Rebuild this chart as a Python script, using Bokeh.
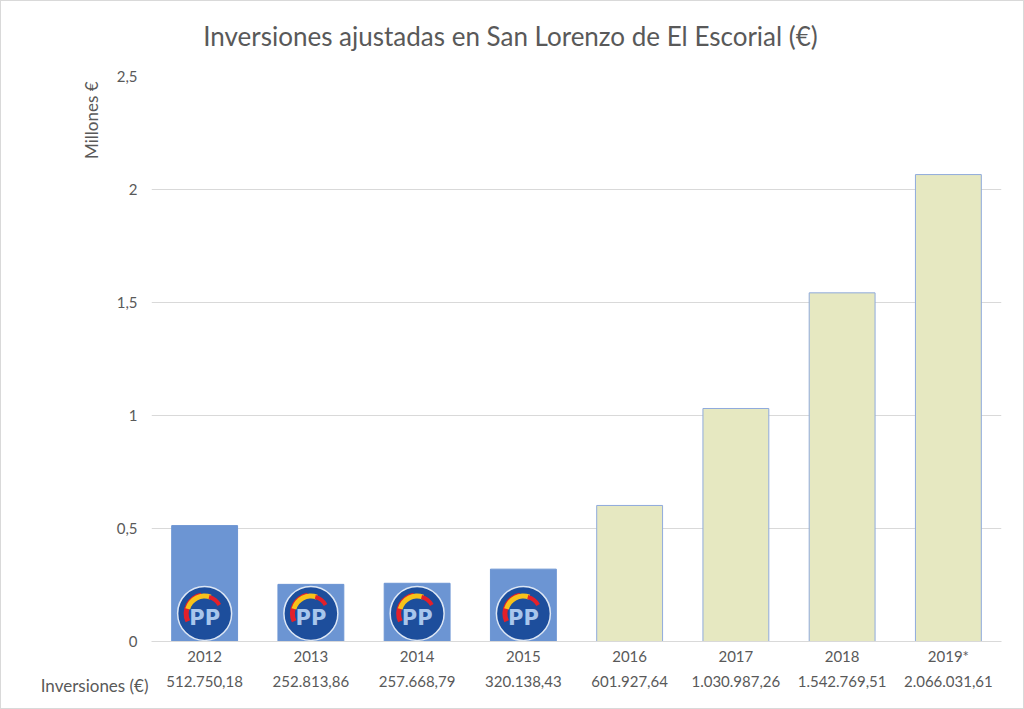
import math
from bokeh.plotting import figure
from bokeh.models import (FactorRange, CategoricalAxis, Label, Title, CustomJSTickFormatter,
                          FixedTicker, ColumnDataSource, Range1d)
from bokeh.core.properties import value
from bokeh.embed import file_html
from bokeh.resources import INLINE

# ---- data ----
years = ["2012", "2013", "2014", "2015", "2016", "2017", "2018", "2019*"]
inversiones = [512750.18, 252813.86, 257668.79, 320138.43,
               601927.64, 1030987.26, 1542769.51, 2066031.61]
inversiones_txt = ["512.750,18", "252.813,86", "257.668,79", "320.138,43",
                   "601.927,64", "1.030.987,26", "1.542.769,51", "2.066.031,61"]
gobierno = ["PP", "PP", "PP", "PP", "Otro", "Otro", "Otro", "Otro"]
y_ticks = [0, 0.5, 1, 1.5, 2, 2.5]

FONT = "Lato"
TXT = "#595959"
GRID = "#D9D9D9"
fill_map = {"PP": "#6C95D3", "Otro": "#E6E8C1"}
line_map = {"PP": "#6C95D3", "Otro": "#8FAADC"}

millones = [v / 1e6 for v in inversiones]
src = ColumnDataSource(dict(
    year=years, m=millones,
    fill=[fill_map[g] for g in gobierno],
    line=[line_map[g] for g in gobierno],
))

p = figure(x_range=FactorRange(*years, range_padding=0), y_range=Range1d(0, 2.5),
           width=1024, height=709, output_backend="svg", toolbar_location=None,
           min_border_left=150, min_border_right=24,
           min_border_top=75, min_border_bottom=68)
p.outline_line_color = None
p.styles = {"border": "1px solid #D9D9D9"}

# chart title, in the upper side panel (coordinates relative to that panel)
p.add_layout(Label(x=359, y=41, x_units="screen", y_units="screen",
                   text="Inversiones ajustadas en San Lorenzo de El Escorial (€)",
                   text_align="center", text_baseline="middle", text_font=FONT,
                   text_font_size="26px", text_color=TXT), "above")

p.add_layout(Title(text="Millones €", align="right", offset=5, standoff=24,
                   vertical_align="bottom", text_font=FONT, text_font_size="17px",
                   text_color=TXT, text_font_style="normal"), "left")

p.vbar(x="year", top="m", width=0.62, fill_color="fill", line_color="line",
       line_width=1, source=src)

# PP logos on the PP bars
pp_years = [y for y, g in zip(years, gobierno) if g == "PP"]
logo_y = 0.124
lsrc = ColumnDataSource(dict(x=pp_years, y=[logo_y] * len(pp_years)))
p.scatter(x="x", y="y", source=lsrc, size=54, marker="circle",
          fill_color="#1D4E9C", line_color="#DCE6F4", line_width=1.5)
p.annular_wedge(x="x", y="y", source=lsrc, inner_radius=16, outer_radius=21,
                inner_radius_units="screen", outer_radius_units="screen",
                start_angle=100, end_angle=205, start_angle_units="deg",
                end_angle_units="deg", fill_color="#E3202A", line_color=None)
p.annular_wedge(x="x", y="y", source=lsrc, inner_radius=15, outer_radius=20,
                inner_radius_units="screen", outer_radius_units="screen",
                start_angle=70, end_angle=165, start_angle_units="deg",
                end_angle_units="deg", fill_color="#F7C21A", line_color=None)
p.annular_wedge(x="x", y="y", source=lsrc, inner_radius=15, outer_radius=19,
                inner_radius_units="screen", outer_radius_units="screen",
                start_angle=30, end_angle=75, start_angle_units="deg",
                end_angle_units="deg", fill_color="#E3202A", line_color=None)
p.text(x="x", y="y", source=lsrc, text=value("PP"), text_align="center",
       text_baseline="middle", y_offset=5, text_font=value("DejaVu Sans"),
       text_font_style="bold", text_font_size="21px", text_color="#A8C6EC")

# axes
p.xgrid.visible = False
p.ygrid.grid_line_color = GRID
p.ygrid.ticker = FixedTicker(ticks=y_ticks)

xa = p.xaxis[0]
xa.axis_line_color = GRID
xa.major_tick_line_color = None
xa.minor_tick_line_color = None
xa.major_tick_out = 0
xa.major_tick_in = 0
xa.major_label_text_font = FONT
xa.major_label_text_font_size = "15px"
xa.major_label_text_color = TXT
xa.major_label_standoff = 5

p.extra_x_ranges = {"vals": FactorRange(*inversiones_txt, range_padding=0)}
ax2 = CategoricalAxis(x_range_name="vals", axis_line_color=None,
                      major_tick_line_color=None, minor_tick_line_color=None,
                      major_tick_out=0, major_tick_in=0,
                      major_label_text_font=FONT, major_label_text_font_size="15px",
                      major_label_text_color=TXT, major_label_standoff=8)
p.add_layout(ax2, "below")

ya = p.yaxis[0]
ya.ticker = FixedTicker(ticks=y_ticks)
ya.formatter = CustomJSTickFormatter(code="return tick.toString().replace('.', ',');")
ya.axis_line_color = None
ya.major_tick_line_color = None
ya.minor_tick_line_color = None
ya.major_tick_out = 0
ya.major_tick_in = 0
ya.major_label_text_font = FONT
ya.major_label_text_font_size = "15px"
ya.major_label_text_color = TXT
ya.major_label_standoff = 14

# row header of the data table, placed in the lower side panel
p.add_layout(Label(x=-3, y=25, x_units="screen", y_units="screen",
                   text="Inversiones (€)", text_align="right",
                   text_baseline="middle", text_font=FONT,
                   text_font_size="17px", text_color=TXT), "below")

open("out.html", "w").write(file_html(p, INLINE))
